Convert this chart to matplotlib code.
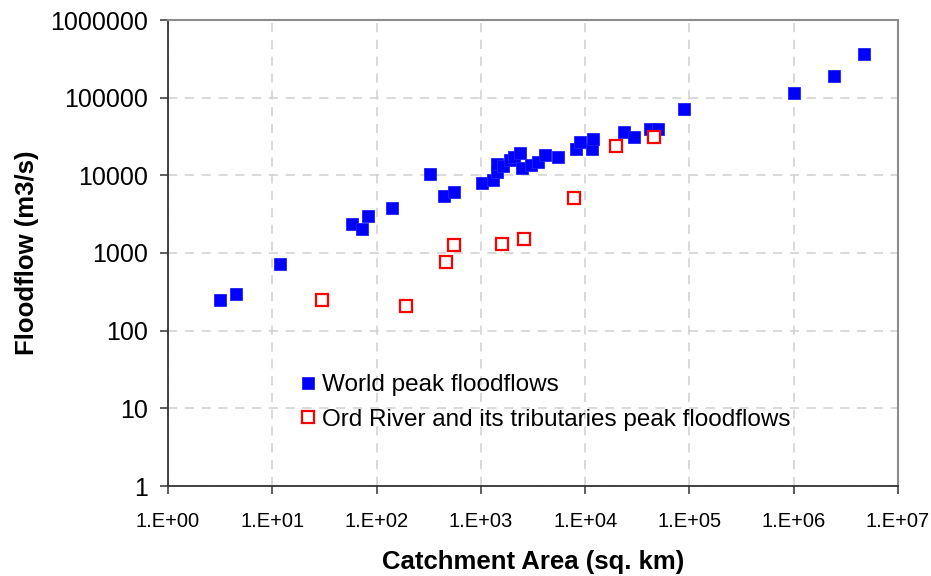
import matplotlib
matplotlib.use("Agg")
import matplotlib.pyplot as plt
from matplotlib.ticker import FixedLocator, FixedFormatter, NullLocator

plt.rcParams['font.family'] = ['Liberation Sans', 'DejaVu Sans']

# World peak floodflows
world_area = [3.15, 4.46, 11.9, 58, 72.4, 82, 140, 325, 443, 548, 1018, 1306, 1427, 1427,
              1630, 1900, 2080, 2370, 2480, 3020, 3530, 4120, 5490, 8170, 8910, 11540,
              11960, 23550, 29400, 41800, 50200, 88500, 1.0e6, 2.43e6, 4.71e6]
world_flow = [248, 299, 728, 2385, 2056, 2995, 3830, 10500, 5470, 6110, 7890, 8710, 11040, 14000,
              13200, 15770, 17230, 19400, 12420, 13590, 14850, 18280, 17230, 21650, 27100, 21650,
              29100, 36500, 30900, 39150, 39150, 70800, 113800, 191700, 368000]

# Ord River and its tributaries peak floodflows
ord_area = [30.0, 191, 460, 548, 1583, 2590, 7810, 19720, 45700]
ord_flow = [248, 210, 766, 1250, 1318, 1502, 5150, 24100, 30900]

x_ticks = [1e0, 1e1, 1e2, 1e3, 1e4, 1e5, 1e6, 1e7]
x_labels = ['1.E+00', '1.E+01', '1.E+02', '1.E+03', '1.E+04', '1.E+05', '1.E+06', '1.E+07']
y_ticks = [1, 10, 100, 1000, 10000, 100000, 1000000]
y_labels = ['1', '10', '100', '1000', '10000', '100000', '1000000']

fig = plt.figure(figsize=(9.31, 5.76), dpi=100)
W, H = 931, 576
left, right, top, bottom = 168, 898, 20, 486
ax = fig.add_axes([left / W, 1 - bottom / H, (right - left) / W, (bottom - top) / H])

ax.set_xscale('log')
ax.set_yscale('log')
ax.set_xlim(1, 1e7)
ax.set_ylim(1, 1e6)

ax.plot(world_area, world_flow, linestyle='none', marker='s', markersize=9.2,
        markerfacecolor='#0000ff', markeredgecolor='#2020ff', markeredgewidth=0.6,
        label='World peak floodflows', zorder=3)
ax.plot(ord_area, ord_flow, linestyle='none', marker='s', markersize=8.2,
        markerfacecolor='white', markeredgecolor='#ff0000', markeredgewidth=1.6,
        label='Ord River and its tributaries peak floodflows', zorder=4)

ax.xaxis.set_major_locator(FixedLocator(x_ticks))
ax.xaxis.set_major_formatter(FixedFormatter(x_labels))
ax.xaxis.set_minor_locator(NullLocator())
ax.yaxis.set_major_locator(FixedLocator(y_ticks))
ax.yaxis.set_major_formatter(FixedFormatter(y_labels))
ax.yaxis.set_minor_locator(NullLocator())

ax.grid(True, which='major', color='#d0d0d0', linestyle=(0, (6, 5)), linewidth=1.1)
ax.set_axisbelow(True)

for s in ['left', 'bottom']:
    ax.spines[s].set_color('#333333')
    ax.spines[s].set_linewidth(1.3)
for s in ['top', 'right']:
    ax.spines[s].set_color('#8c8c8c')
    ax.spines[s].set_linewidth(1.5)

ax.tick_params(axis='both', which='major', direction='out', length=6, width=1.1, color='#333333')
ax.tick_params(axis='y', labelsize=18, pad=8.5)
ax.tick_params(axis='x', labelsize=14.5, pad=12.5)

ax.set_xlabel('Catchment Area (sq. km)', fontsize=18.5, fontweight='bold', labelpad=14)
ax.set_ylabel('Floodflow (m3/s)', fontsize=18.5, fontweight='bold', labelpad=8)

leg = ax.legend(loc='upper left',
                bbox_to_anchor=((300.5 - left) / (right - left), 1 - (374 - top) / (bottom - top)),
                frameon=False, fontsize=17.5, handlelength=0.6, handletextpad=0.28,
                labelspacing=0.52, borderaxespad=0, borderpad=0)

fig.savefig('out.png', dpi=100)
